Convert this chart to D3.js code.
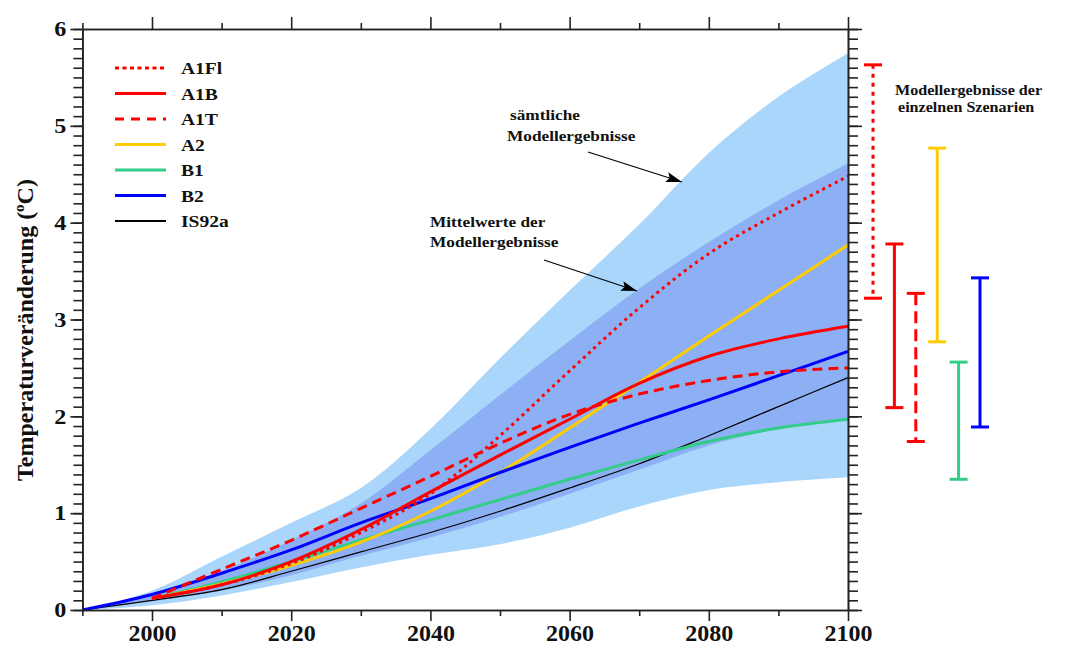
<!DOCTYPE html>
<html>
<head>
<meta charset="utf-8">
<script src="https://cdn.jsdelivr.net/npm/d3@7"></script>
<style>
body { margin: 0; background: #fff; }
text { font-family: "Liberation Serif", "Times New Roman", serif; fill: #111; }
</style>
</head>
<body>
<svg id="chart" width="1067" height="646"></svg>
<script>
// years on the x axis
var years = [1990, 2000, 2010, 2020, 2030, 2040, 2050, 2060, 2070, 2080, 2090, 2100];
var sresYears = [2000, 2010, 2020, 2030, 2040, 2050, 2060, 2070, 2080, 2090, 2100];

// envelopes (all model results / model means)
var allUpper = [0, 0.2, 0.55, 0.9, 1.26, 1.87, 2.6, 3.3, 3.98, 4.72, 5.3, 5.75];
var allLower = [0, 0.05, 0.15, 0.29, 0.44, 0.57, 0.68, 0.85, 1.07, 1.24, 1.32, 1.37];
var meanUpper = [0, 0.15, 0.4, 0.72, 1.1, 1.65, 2.22, 2.78, 3.32, 3.8, 4.23, 4.61];
var meanLower = [0, 0.09, 0.2, 0.36, 0.56, 0.75, 0.96, 1.2, 1.45, 1.7, 1.87, 1.98];

// scenario means
var a1fl = [0.12, 0.26, 0.48, 0.8, 1.2, 1.8, 2.47, 3.12, 3.68, 4.1, 4.48];
var a1b = [0.12, 0.26, 0.5, 0.83, 1.22, 1.6, 1.97, 2.34, 2.62, 2.8, 2.93];
var a1t = [0.12, 0.42, 0.72, 1.05, 1.38, 1.72, 2.02, 2.23, 2.37, 2.46, 2.5];
var a2 = [0.12, 0.27, 0.46, 0.7, 1.02, 1.42, 1.88, 2.35, 2.83, 3.3, 3.77];
var b1 = [0.12, 0.29, 0.5, 0.72, 0.93, 1.14, 1.35, 1.55, 1.74, 1.88, 1.97];
var b2 = [0, 0.16, 0.38, 0.62, 0.9, 1.15, 1.42, 1.68, 1.93, 2.17, 2.42, 2.67];
var is92a = [0, 0.1, 0.21, 0.4, 0.6, 0.8, 1.02, 1.26, 1.51, 1.8, 2.1, 2.4];

// ranges of the single scenarios in 2100
var rangeNames = ['A1Fl', 'A1B', 'A1T', 'A2', 'B1', 'B2'];
var rangeLow = [3.22, 2.09, 1.74, 2.77, 1.35, 1.89];
var rangeHigh = [5.63, 3.78, 3.27, 4.77, 2.56, 3.43];

var legendNames = ['A1Fl', 'A1B', 'A1T', 'A2', 'B1', 'B2', 'IS92a'];
var yTicks = [0, 1, 2, 3, 4, 5, 6];
var xTicks = [2000, 2020, 2040, 2060, 2080, 2100];
var xMinor = [1990, 2010, 2030, 2050, 2070, 2090];

var styles = {
  'A1Fl': { color: '#ff0000', width: 3, dash: '3,4' },
  'A1B': { color: '#ff0000', width: 3, dash: null },
  'A1T': { color: '#ff0000', width: 3, dash: '10,6' },
  'A2': { color: '#ffcc00', width: 3, dash: null },
  'B1': { color: '#33cc88', width: 3, dash: null },
  'B2': { color: '#0000ff', width: 3, dash: null },
  'IS92a': { color: '#000000', width: 1.2, dash: null }
};

var series = {
  'IS92a': d3.zip(years, is92a),
  'B1': d3.zip(sresYears, b1),
  'A2': d3.zip(sresYears, a2),
  'B2': d3.zip(years, b2),
  'A1B': d3.zip(sresYears, a1b),
  'A1T': d3.zip(sresYears, a1t),
  'A1Fl': d3.zip(sresYears, a1fl)
};

var svg = d3.select('#chart');
var x = d3.scaleLinear().domain([1990, 2100]).range([82.4, 848]);
var y = d3.scaleLinear().domain([0, 6]).range([610, 29]);
var stretch = 1.15;

drawBands();
drawLines();
drawAxes();
drawLegend();
drawRanges();
drawNotes();

function drawBands(){
  var area = d3.area()
    .x(function(d){ return x(d[0]); })
    .y0(function(d){ return y(d[1]); })
    .y1(function(d){ return y(d[2]); })
    .curve(d3.curveCatmullRom.alpha(0.5));

  svg.append('path')
    .datum(d3.zip(years, allLower, allUpper))
    .attr('d', area)
    .attr('fill', '#a9d6fa');

  svg.append('path')
    .datum(d3.zip(years, meanLower, meanUpper))
    .attr('d', area)
    .attr('fill', '#8cb0f3');
}

function drawLines(){
  var line = d3.line()
    .x(function(d){ return x(d[0]); })
    .y(function(d){ return y(d[1]); })
    .curve(d3.curveCatmullRom.alpha(0.5));

  Object.keys(series).forEach(function(name){
    var s = styles[name];
    svg.append('path')
      .datum(series[name])
      .attr('d', line)
      .attr('fill', 'none')
      .attr('stroke', s.color)
      .attr('stroke-width', s.width)
      .attr('stroke-dasharray', s.dash);
  });
}

function styleAxis(g){
  g.selectAll('path, line').attr('stroke', '#222').attr('stroke-width', 1.6);
  g.selectAll('text').style('font-family', '"Liberation Serif", serif').attr('fill', '#111');
}

function drawAxes(){
  var minorT = d3.range(0, 61).map(function(i){ return i / 10; });

  // left
  svg.append('g').attr('transform', 'translate(82.4,0)')
    .call(d3.axisLeft(y).tickValues(minorT).tickSize(9).tickSizeOuter(0).tickFormat(''))
    .call(styleAxis);
  var left = svg.append('g').attr('transform', 'translate(82.4,0)')
    .call(d3.axisLeft(y).tickValues(yTicks).tickSize(12).tickSizeOuter(0).tickPadding(4).tickFormat(d3.format('d')))
    .call(styleAxis);
  left.selectAll('text')
    .attr('font-size', '21px').attr('font-weight', 'bold')
    .attr('x', -16 / 1.15).attr('transform', 'scale(1.15,1)');

  // right
  svg.append('g').attr('transform', 'translate(848,0)')
    .call(d3.axisRight(y).tickValues(minorT).tickSize(10).tickSizeOuter(0).tickFormat(''))
    .call(styleAxis);
  svg.append('g').attr('transform', 'translate(848,0)')
    .call(d3.axisRight(y).tickValues(yTicks).tickSize(14).tickSizeOuter(0).tickFormat(''))
    .call(styleAxis);

  // bottom
  svg.append('g').attr('transform', 'translate(0,610)')
    .call(d3.axisBottom(x).tickValues(xMinor).tickSize(6).tickSizeOuter(0).tickFormat(''))
    .call(styleAxis);
  var bottom = svg.append('g').attr('transform', 'translate(0,610)')
    .call(d3.axisBottom(x).tickValues(xTicks).tickSize(11).tickSizeOuter(0).tickPadding(3).tickFormat(d3.format('d')))
    .call(styleAxis);
  bottom.selectAll('text').attr('font-size', '24px').attr('font-weight', 'bold');

  // top
  svg.append('g').attr('transform', 'translate(0,29)')
    .call(d3.axisTop(x).tickValues(xMinor).tickSize(6).tickSizeOuter(0).tickFormat(''))
    .call(styleAxis);
  svg.append('g').attr('transform', 'translate(0,29)')
    .call(d3.axisTop(x).tickValues(xTicks).tickSize(12).tickSizeOuter(0).tickFormat(''))
    .call(styleAxis);

  // y title
  var t = svg.append('text')
    .attr('transform', 'translate(33,330) rotate(-90)')
    .attr('text-anchor', 'middle')
    .attr('font-size', '24px')
    .attr('font-weight', 'bold');
  t.append('tspan').text('Temperaturveränderung (');
  t.append('tspan').text('o').attr('font-size', '15px').attr('dy', -9);
  t.append('tspan').text('C)').attr('dy', 9);
}

function stext(px, py, str, size, weight){
  return svg.append('text')
    .attr('transform', 'translate(' + px + ',' + py + ') scale(' + stretch + ',1)')
    .attr('font-size', size)
    .attr('font-weight', weight)
    .text(str);
}

function drawLegend(){
  legendNames.forEach(function(name, i){
    var s = styles[name];
    var ly = 68 + i * 25.5;
    svg.append('line')
      .attr('x1', 115).attr('x2', 166)
      .attr('y1', ly).attr('y2', ly)
      .attr('stroke', s.color)
      .attr('stroke-width', name == 'IS92a' ? 2 : 3)
      .attr('stroke-dasharray', name == 'A1Fl' ? '4,3.5' : (name == 'A1T' ? '9,7' : null));
    stext(181, ly + 6, name, '17px', 'bold');
  });
}

function drawRanges(){
  var px = d3.scalePoint().domain(rangeNames).range([873, 980]);
  rangeNames.forEach(function(name, i){
    var s = styles[name];
    var cx = px(name);
    svg.append('line')
      .attr('x1', cx).attr('x2', cx)
      .attr('y1', y(rangeHigh[i])).attr('y2', y(rangeLow[i]))
      .attr('stroke', s.color).attr('stroke-width', 3)
      .attr('stroke-dasharray', name == 'A1Fl' ? '4,5' : (name == 'A1T' ? '12,6' : null));
    [rangeHigh[i], rangeLow[i]].forEach(function(v){
      svg.append('line')
        .attr('x1', cx - 9).attr('x2', cx + 9)
        .attr('y1', y(v)).attr('y2', y(v))
        .attr('stroke', s.color).attr('stroke-width', 3);
    });
  });
}

function drawNotes(){
  svg.append('defs').append('marker')
    .attr('id', 'arrow')
    .attr('viewBox', '0 0 16 10')
    .attr('refX', 16).attr('refY', 5)
    .attr('markerWidth', 16).attr('markerHeight', 10)
    .attr('markerUnits', 'userSpaceOnUse')
    .attr('orient', 'auto')
    .append('path').attr('d', 'M0,0 L16,5 L0,10 L3,5 Z').attr('fill', '#000');

  stext(510, 120, 'sämtliche', '15px', 'bold');
  stext(507, 141, 'Modellergebnisse', '15px', 'bold');
  stext(430, 227, 'Mittelwerte der', '15px', 'bold');
  stext(430, 247, 'Modellergebnisse', '15px', 'bold');
  stext(895, 95, 'Modellergebnisse der', '14px', 'bold');
  stext(898, 112, 'einzelnen Szenarien', '14px', 'bold');

  svg.append('line')
    .attr('x1', 588).attr('y1', 152).attr('x2', 682).attr('y2', 182)
    .attr('stroke', '#000').attr('stroke-width', 1.2)
    .attr('marker-end', 'url(#arrow)');
  svg.append('line')
    .attr('x1', 544).attr('y1', 260).attr('x2', 637).attr('y2', 291)
    .attr('stroke', '#000').attr('stroke-width', 1.2)
    .attr('marker-end', 'url(#arrow)');
}
</script>
</body>
</html>
